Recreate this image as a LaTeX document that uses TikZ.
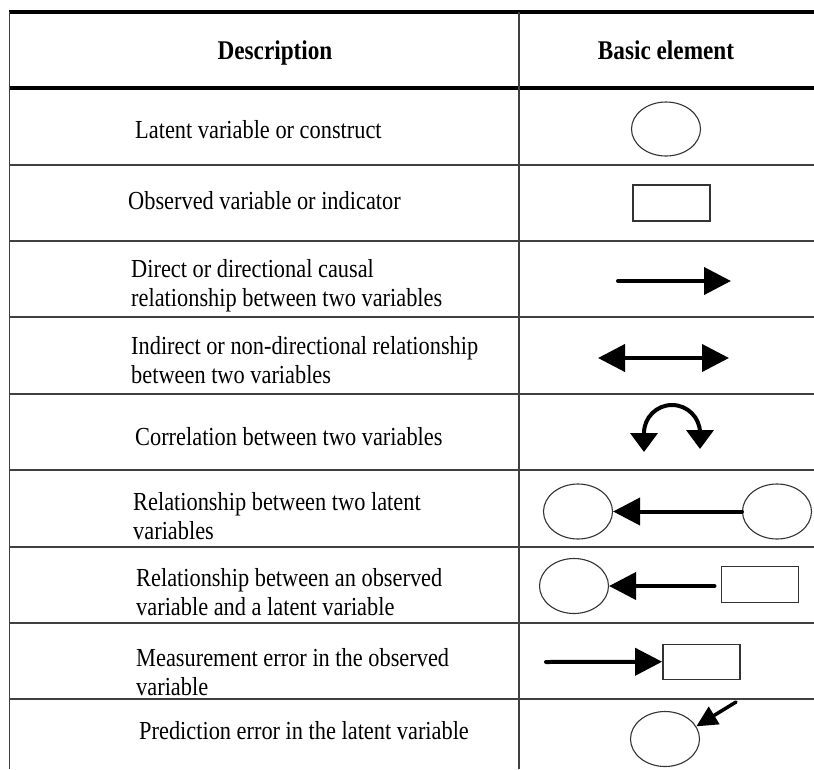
\documentclass[tikz,border=0pt]{standalone}
\usepackage{fontspec}
\setmainfont{Liberation Serif}[FakeStretch=0.86]
\usetikzlibrary{arrows.meta,shapes.geometric}
\begin{document}
\begin{tikzpicture}[x=1pt,y=-1pt,
  rule/.style={draw=black!75, line width=1.5pt},
  heavyrule/.style={draw=black, line width=3.5pt},
  desc/.style={anchor=base west, inner sep=0pt, align=left,
    font=\fontsize{26}{29}\selectfont},
  headtext/.style={anchor=base, inner sep=0pt,
    font=\fontsize{27}{30}\selectfont\bfseries},
  latent/.style={ellipse, draw=black!80, line width=1.1pt, inner sep=0pt,
    minimum width=69pt, minimum height=55pt},
  observed/.style={rectangle, draw=black!80, line width=1.4pt, inner sep=0pt,
    minimum width=77pt, minimum height=36pt},
  path arrow/.style={line width=4pt, line cap=round,
    -{Triangle[length=27pt,width=27pt]}},
  small arrow/.style={line width=3.5pt, line cap=round,
    -{Triangle[length=21pt,width=20pt]}}]

\useasboundingbox (0,0) rectangle (814,769);

% table rules
\draw[heavyrule] (9,12) -- (814,12);
\draw[heavyrule] (9,88) -- (814,88);
\foreach \yy in {165,241,317,394,470,547,623,699}
  \draw[rule] (9,\yy) -- (814,\yy);
\draw[rule] (9.5,12) -- (9.5,769);
\draw[rule] (519,12) -- (519,769);

% header
\node[headtext] (hdesc) at (275,59) {Description};
\node[headtext] (helem) at (666,59) {Basic element};

% descriptions (multi-line nodes are placed by the baseline of their last line)
\node[desc] (d1) at (135,138) {Latent variable or construct};
\node[desc] (d2) at (128,209) {Observed variable or indicator};
\node[desc] (d3) at (131,306) {Direct or directional causal\\relationship between two variables};
\node[desc] (d4) at (131,383) {Indirect or non-directional relationship\\between two variables};
\node[desc] (d5) at (135,445) {Correlation between two variables};
\node[desc] (d6) at (133,539) {Relationship between two latent\\variables};
\node[desc] (d7) at (136,615) {Relationship between an observed\\variable and a latent variable};
\node[desc] (d8) at (136,695) {Measurement error in the observed\\variable};
\node[desc] (d9) at (139,739) {Prediction error in the latent variable};

% row 1: latent variable
\node[latent, minimum height=54pt] (lv1) at (666,129) {};

% row 2: observed variable
\node[observed] (ov2) at (671.5,203) {};

% row 3: directional arrow
\coordinate (a3s) at (618,281);
\coordinate (a3e) at (731,281);
\draw[path arrow] (a3s) -- (a3e);

% row 4: two-headed arrow
\coordinate (a4s) at (598,358);
\coordinate (a4e) at (729,358);
\draw[line width=4pt, {Triangle[length=27pt,width=27pt]}-{Triangle[length=27pt,width=27pt]}] (a4s) -- (a4e);

% row 5: curved correlation arrow
\coordinate (c5l) at (644,452);
\coordinate (c5r) at (700,449);
\draw[line width=4pt, {Triangle[length=19pt,width=27pt]}-{Triangle[length=19pt,width=27pt]}]
  (c5l) -- (644,433) arc (180:0:28pt) -- (c5r);

% row 6: latent to latent
\node[latent] (lv6a) at (578,511.5) {};
\node[latent] (lv6b) at (777,511.5) {};
\draw[path arrow] (lv6b.west) -- (lv6a.east);

% row 7: observed to latent
\node[latent] (lv7) at (574,586) {};
\node[observed] (ov7) at (759.7,584.7) {};
\draw[path arrow, shorten <=6pt] (lv7.east -| ov7.west) -- (lv7.east);

% row 8: measurement error
\node[observed, minimum height=35pt] (ov8) at (701.3,661.7) {};
\coordinate (e8) at (546,662);
\draw[path arrow] (e8) -- (ov8.west);

% row 9: prediction error
\node[latent] (lv9) at (665,739) {};
\coordinate (e9) at (736,702);
\draw[small arrow] (e9) -- (lv9.22);

\end{tikzpicture}
\end{document}
